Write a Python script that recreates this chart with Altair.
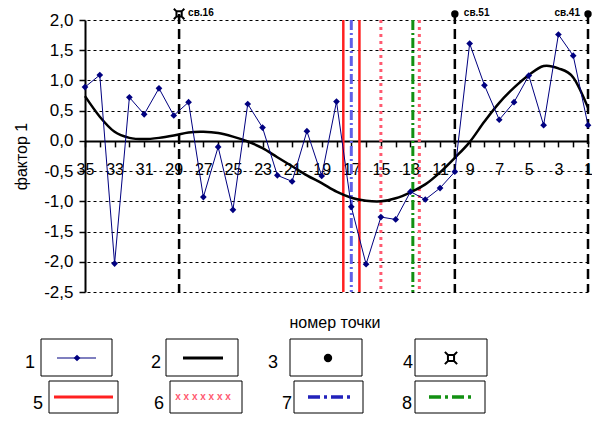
import altair as alt
import pandas as pd

# ---------------- data ----------------
point_no = list(range(35, 0, -1))
factor1 = [0.89, 1.09, -2.03, 0.72, 0.44, 0.87, 0.42, 0.64, -0.93, -0.10,
           -1.14, 0.61, 0.22, -0.57, -0.67, 0.16, -0.58, 0.65, -1.09, -2.04,
           -1.26, -1.30, -0.84, -0.97, -0.78, -0.51, 1.61, 0.92, 0.35, 0.64,
           1.08, 0.26, 1.76, 1.41, 0.26]
trend = [0.74, 0.40, 0.15, 0.05, 0.03, 0.05, 0.09, 0.14, 0.15, 0.13,
         0.07, -0.01, -0.12, -0.27, -0.42, -0.57, -0.70, -0.84, -0.94, -0.99,
         -1.00, -0.95, -0.85, -0.72, -0.52, -0.28, -0.02, 0.32, 0.63, 0.88,
         1.09, 1.24, 1.20, 1.05, 0.55]

well_n = [28.64, 10, 1]
well_labels = ["св.16", "св.51", "св.41"]
red_solid_n = [17.54, 16.45]
blue_dashdot_n = [17.0]
red_x_n = [15.0, 12.4]
green_dashdot_n = [12.84]

y_ticks = [-2.5, -2.0, -1.5, -1.0, -0.5, 0.0, 0.5, 1.0, 1.5, 2.0]
x_ticks = list(range(1, 36))
y_min, y_max, marker_level = -2.5, 2.0, 2.1

FONT = "Liberation Sans"
# square with corner spikes (the "¤" marker)
SQ_MARK = ("M-0.5,-0.5L0.5,-0.5L0.5,0.5L-0.5,0.5Z"
           "M-1,-1L-0.5,-0.5M1,-1L0.5,-0.5M1,1L0.5,0.5M-1,1L-0.5,0.5")

# ---------------- scales / axes ----------------
W, H = 503, 272
zero_from_bottom = H * (0 - y_min) / (y_max - y_min)

xaxis = alt.Axis(values=x_ticks,
                 labelExpr="datum.value % 2 == 1 ? datum.value : ''",
                 offset=-zero_from_bottom, grid=False,
                 domainColor="black", domainWidth=2,
                 tickColor="black", tickWidth=1.5, tickSize=6,
                 labelPadding=15, labelFontSize=16, labelFont=FONT,
                 labelColor="black", labelFlush=False, labelOverlap=False,
                 labelAngle=0)
yaxis = alt.Axis(values=y_ticks,
                 labelExpr="replace(replace(format(datum.value, '.1f'), '.', ','), '\u2212', '-')",
                 grid=True, gridColor="black", gridDash=[3, 3], gridWidth=1,
                 domainColor="black", domainWidth=2,
                 tickColor="black", tickWidth=1.5, tickSize=6,
                 labelPadding=6, labelFontSize=17, labelFont=FONT,
                 labelColor="black", labelFlush=False,
                 titleFont=FONT, titleFontSize=16, titleFontWeight="normal",
                 titleColor="black", titlePadding=14)

X = alt.X("n:Q", scale=alt.Scale(domain=[1, 35], reverse=True, nice=False, zero=False),
          axis=xaxis, title=None)
Y = alt.Y("v:Q", scale=alt.Scale(domain=[y_min, y_max], nice=False, zero=False),
          axis=yaxis, title="фактор 1")


def vlines(ns, top, **mk):
    df = pd.DataFrame({"n": ns, "v": [top] * len(ns), "v2": [y_min] * len(ns)})
    return alt.Chart(df).mark_rule(**mk).encode(x=X, y=Y, y2="v2:Q")


layers = []
layers.append(vlines(red_solid_n, y_max, color="#ff2020", strokeWidth=2.5))
layers.append(vlines(red_x_n, y_max, color="#ff5a70", strokeWidth=3, strokeDash=[3, 4]))
layers.append(vlines(blue_dashdot_n, y_max, color="#6060e8", strokeWidth=3,
                     strokeDash=[10, 3, 2, 3]))
layers.append(vlines(green_dashdot_n, y_max, color="#129012", strokeWidth=3,
                     strokeDash=[10, 3, 2, 3]))
layers.append(vlines(well_n, marker_level, color="black", strokeWidth=2.5,
                     strokeDash=[10, 5]))

df_trend = pd.DataFrame({"n": point_no, "v": trend})
layers.append(alt.Chart(df_trend).mark_line(color="black", strokeWidth=2.5,
                                             interpolate="cardinal").encode(x=X, y=Y))

df_f = pd.DataFrame({"n": point_no, "v": factor1})
layers.append(alt.Chart(df_f).mark_line(color="#000080", strokeWidth=1).encode(x=X, y=Y))
layers.append(alt.Chart(df_f).mark_point(shape="diamond", filled=True, size=45,
                                          color="#000080", opacity=1).encode(x=X, y=Y))

# well markers at top
df_circ = pd.DataFrame({"n": well_n[1:], "v": [marker_level] * 2})
layers.append(alt.Chart(df_circ).mark_point(shape="circle", filled=True, size=55,
                                             color="black", opacity=1).encode(x=X, y=Y))
df_sq = pd.DataFrame({"n": well_n[:1], "v": [marker_level]})
layers.append(alt.Chart(df_sq).mark_point(shape=SQ_MARK, filled=False, size=110,
                                           color="black", strokeWidth=2,
                                           opacity=1).encode(x=X, y=Y))
df_lab_r = pd.DataFrame({"n": well_n[:2], "v": [marker_level + 0.02] * 2, "t": well_labels[:2]})
layers.append(alt.Chart(df_lab_r).mark_text(font=FONT, fontSize=10, fontWeight="bold",
                                             align="left", baseline="middle", dx=9,
                                             color="black").encode(x=X, y=Y, text="t:N"))
df_lab_l = pd.DataFrame({"n": well_n[2:], "v": [marker_level + 0.02], "t": well_labels[2:]})
layers.append(alt.Chart(df_lab_l).mark_text(font=FONT, fontSize=10, fontWeight="bold",
                                             align="right", baseline="middle", dx=-8,
                                             color="black").encode(x=X, y=Y, text="t:N"))

# ---------------- x title and legend (pixel layout) ----------------
one = pd.DataFrame({"k": [0]})


def txt(s, x, y, size=18):
    return alt.Chart(one).mark_text(text=s, font=FONT, fontSize=size, color="black",
                                     align="center", baseline="middle").encode(
        x=alt.value(x), y=alt.value(y))


def box(x0, x1, y0, y1):
    return alt.Chart(one).mark_rect(fill="white", stroke="black", strokeWidth=1).encode(
        x=alt.value(x0), x2=alt.value(x1), y=alt.value(y0), y2=alt.value(y1))


def hline(x0, x1, y, **mk):
    return alt.Chart(one).mark_rule(**mk).encode(x=alt.value(x0), x2=alt.value(x1), y=alt.value(y))


layers.append(txt("номер точки", 250, 303, 16))

r1 = (319, 356)
r2 = (361, 393)
boxes1 = [(-44, 27), (81, 153), (205, 277), (330, 402)]
boxes2 = [(-36, 33), (85, 157), (209, 278), (330, 400)]
labels1 = [("1", -55), ("2", 71), ("3", 188), ("4", 323)]
labels2 = [("5", -47), ("6", 74), ("7", 202), ("8", 322)]
for (a, b) in boxes1:
    layers.append(box(a, b, r1[0], r1[1]))
for (a, b) in boxes2:
    layers.append(box(a, b, r2[0], r2[1]))
for (s, x) in labels1:
    layers.append(txt(s, x, 343))
for (s, x) in labels2:
    layers.append(txt(s, x, 384))

sy1, sy2 = 338, 377
layers.append(hline(-28, 11, sy1, color="#000080", strokeWidth=1.2))
layers.append(alt.Chart(one).mark_point(shape="diamond", filled=True, size=45, color="#000080",
                                         opacity=1).encode(x=alt.value(-8), y=alt.value(sy1)))
layers.append(hline(98, 138, sy1, color="black", strokeWidth=3))
layers.append(alt.Chart(one).mark_point(shape="circle", filled=True, size=70, color="black",
                                         opacity=1).encode(x=alt.value(243), y=alt.value(sy1)))
layers.append(alt.Chart(one).mark_point(shape=SQ_MARK, filled=False, size=150, color="black",
                                         strokeWidth=2, opacity=1).encode(
    x=alt.value(366), y=alt.value(sy1)))
layers.append(hline(-31, 28, sy2, color="#ff2020", strokeWidth=3))
layers.append(alt.Chart(one).mark_text(text="x x x x x x x", font=FONT, fontSize=10,
                                        fontWeight="bold", color="#ff5a70",
                                        baseline="middle").encode(x=alt.value(118), y=alt.value(sy2)))
layers.append(hline(223, 268, sy2, color="#2222bb", strokeWidth=3.5, strokeDash=[12, 4, 3, 4]))
layers.append(hline(344, 388, sy2, color="#129012", strokeWidth=3.5, strokeDash=[12, 4, 3, 4]))

chart = alt.layer(*layers).properties(
    width=W, height=H,
    padding={"left": 77, "top": 12, "right": 4, "bottom": 123},
    autosize=alt.AutoSizeParams(type="none"),
    background="white",
).configure_view(stroke=None)

chart.save("out.html", embed_options={"renderer": "svg", "actions": False})
